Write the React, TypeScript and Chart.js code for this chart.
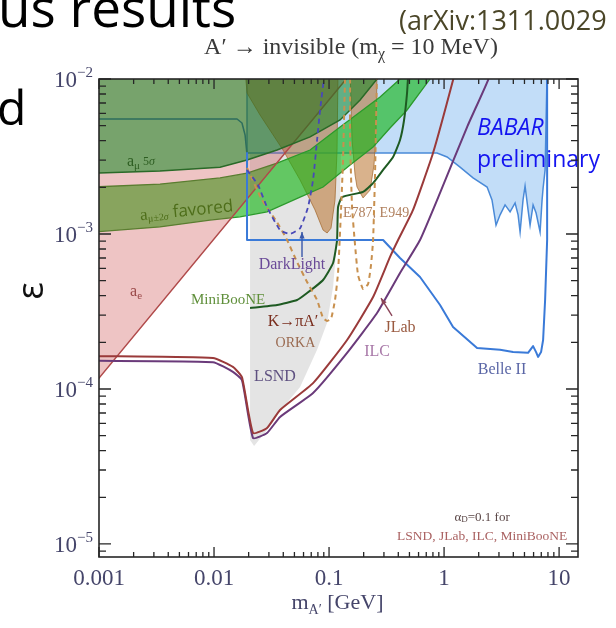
import { useEffect, useRef } from 'react';
import { Chart, registerables } from 'chart.js';

Chart.register(...registerables);

type Pair = [number, number];

// axis ranges: dark photon mass m_A' [GeV] and kinetic mixing ε
const X_RANGE: Pair = [0.001, 14.6];
const Y_RANGE: Pair = [8.24e-6, 0.01];

const xTickValues = [0.001, 0.01, 0.1, 1, 10];
const xTickLabels = ['0.001', '0.01', '0.1', '1', '10'];
const yTickValues = [1e-5, 1e-4, 1e-3, 1e-2];
const yTickExponents = ['−5', '−4', '−3', '−2'];

// ---- exclusion / projection regions ----
const lsndRegion: Pair[] = [
  [0.02056, 3.33e-3], [0.02056, 4.69e-5], [0.0223, 4.29e-5], [0.0289, 5.43e-5], [0.0375, 7.21e-5],
  [0.056, 1.03e-4], [0.0787, 1.79e-4], [0.0962, 2.67e-4], [0.1084, 4.55e-4], [0.1174, 9.14e-4],
  [0.1247, 1.66e-3], [0.1271, 3.33e-3],
];

const babarRegion: Pair[] = [
  [0.01936, 0.0115], [0.01936, 3.33e-3], [0.869, 3.33e-3], [1.062, 3.14e-3], [1.377, 2.70e-3],
  [1.786, 2.30e-3], [2.366, 2.01e-3], [2.61, 1.66e-3], [2.83, 1.14e-3], [3.069, 1.33e-3],
  [3.391, 1.54e-3], [3.75, 1.39e-3], [4.144, 1.585e-3], [4.4, 1.33e-3], [4.581, 1.03e-3],
  [4.86, 1.66e-3], [5.06, 2.04e-3], [5.373, 1.43e-3], [5.594, 1.14e-3], [5.941, 1.54e-3],
  [6.31, 1.365e-3], [6.834, 1.03e-3], [7.114, 1.66e-3], [7.261, 1.98e-3], [7.557, 2.59e-3],
  [7.87, 0.0115],
];

const favoredUpper: Pair[] = [
  [0.0009, 2.01e-3], [0.00339, 2.10e-3], [0.01128, 2.30e-3], [0.01936, 2.47e-3], [0.03532, 2.87e-3],
  [0.06839, 3.48e-3], [0.1247, 4.90e-3], [0.2776, 7.65e-3], [0.4141, 0.01], [0.458, 0.0115],
];
const favoredLower: Pair[] = [
  [0.0009, 1.03e-3], [0.00339, 1.11e-3], [0.00923, 1.23e-3], [0.01683, 1.29e-3], [0.0289, 1.39e-3],
  [0.056, 1.73e-3], [0.0887, 2.01e-3], [0.1524, 2.79e-3], [0.2415, 3.64e-3], [0.339, 4.83e-3],
  [0.4766, 6.31e-3], [0.7551, 0.01], [0.835, 0.0115],
];

const aeBound: Pair[] = [[0.0009, 1.07e-4], [0.16, 0.0112]];
const aeCorner: Pair = [0.0009, 0.0112];

const muon5Sigma: Pair[] = [
  [0.0009, 2.47e-3], [0.00339, 2.55e-3], [0.01128, 2.70e-3], [0.01936, 3.00e-3], [0.03532, 3.48e-3],
  [0.06839, 4.23e-3], [0.1247, 5.44e-3], [0.1862, 7.32e-3], [0.2614, 0.01], [0.307, 0.0115],
];
const muonCorner: Pair = [0.0009, 0.0115];

const kaonRegionA: Pair[] = [
  [0.01862, 0.0115], [0.01936, 8.12e-3], [0.02512, 5.86e-3], [0.03981, 3.48e-3], [0.056, 2.23e-3],
  [0.0755, 1.43e-3], [0.0887, 1.06e-3], [0.0962, 1.015e-3], [0.104, 1.09e-3], [0.1127, 1.66e-3],
  [0.1174, 3.48e-3], [0.1197, 0.0115],
];
const kaonRegionB: Pair[] = [
  [0.1524, 0.0115], [0.1585, 4.04e-3], [0.1683, 2.40e-3], [0.175, 2.01e-3], [0.1976, 1.71e-3],
  [0.2275, 1.92e-3], [0.246, 2.79e-3], [0.2564, 4.69e-3], [0.2614, 0.0115],
];

// ---- curves ----
const tealBound: Pair[] = [
  [0.0009, 5.52e-3], [0.01585, 5.52e-3], [0.0175, 5.20e-3], [0.01862, 4.35e-3], [0.01936, 3.24e-3],
];

const miniBooNE: Pair[] = [
  [0.02056, 3.33e-4], [0.03532, 3.48e-4], [0.05272, 3.75e-4], [0.06442, 4.16e-4], [0.0887, 5.05e-4],
  [0.1084, 6.50e-4], [0.1174, 9.14e-4], [0.1197, 1.49e-3], [0.1297, 1.73e-3], [0.1976, 1.87e-3],
  [0.2415, 2.13e-3], [0.2951, 2.59e-3], [0.3603, 3.14e-3], [0.4141, 4.04e-3], [0.449, 5.44e-3],
  [0.4766, 8.12e-3], [0.49, 0.0115],
];

const belle2: Pair[] = [
  [0.01936, 3.33e-3], [0.01936, 9.14e-4], [0.2951, 9.14e-4], [0.4141, 7.0e-4], [0.618, 5.28e-4],
  [0.9226, 3.48e-4], [1.197, 2.51e-4], [1.936, 1.84e-4], [3.069, 1.79e-4], [3.981, 1.73e-4],
  [5.373, 1.71e-4], [5.941, 1.89e-4], [6.31, 1.73e-4], [6.566, 1.61e-4], [6.97, 1.73e-4],
  [7.261, 2.07e-4], [7.557, 3.75e-4], [7.87, 9.14e-4], [7.87, 0.0115],
];

const orka: Pair[] = [
  [0.01936, 2.67e-3], [0.0261, 1.66e-3], [0.03532, 1.19e-3], [0.04315, 9.14e-4], [0.05272, 6.59e-4],
  [0.06442, 4.90e-4], [0.0787, 3.75e-4], [0.0887, 2.87e-4], [0.0962, 2.75e-4], [0.104, 2.83e-4],
  [0.1127, 3.75e-4], [0.1197, 5.60e-4], [0.1271, 1.43e-3], [0.1323, 3.0e-3], [0.1377, 0.01],
  [0.14, 0.0115],
];

const kaonProjection: Pair[] = [
  [0.1524, 0.0115], [0.1524, 4.04e-3], [0.1585, 1.49e-3], [0.1683, 8.49e-4], [0.1787, 5.43e-4],
  [0.1976, 4.42e-4], [0.2183, 4.75e-4], [0.2317, 6.31e-4], [0.2415, 9.14e-4], [0.2512, 2.47e-3],
  [0.2614, 0.0115],
];

const darkLight: Pair[] = [
  [0.01936, 2.59e-3], [0.02414, 2.07e-3], [0.0289, 1.49e-3], [0.0375, 1.06e-3], [0.04581, 1.0e-3],
  [0.056, 1.09e-3], [0.06565, 1.49e-3], [0.07261, 2.23e-3], [0.0787, 4.04e-3], [0.08356, 6.31e-3],
  [0.0923, 0.0115],
];

const ilc: Pair[] = [
  [0.0009, 1.52e-4], [0.0098, 1.49e-4], [0.0146, 1.29e-4], [0.0175, 1.14e-4], [0.02183, 4.83e-5],
  [0.0289, 5.20e-5], [0.0375, 6.60e-5], [0.0726, 9.42e-5], [0.1435, 1.71e-4], [0.2614, 3.09e-4],
  [0.4141, 5.60e-4], [0.618, 9.14e-4], [0.9226, 1.84e-3], [1.585, 4.90e-3], [2.414, 9.85e-3],
  [2.512, 0.0115],
];

const jlab: Pair[] = [
  [0.0009, 1.63e-4], [0.0098, 1.585e-4], [0.0146, 1.39e-4], [0.0175, 1.19e-4], [0.02183, 5.20e-5],
  [0.0289, 5.60e-5], [0.0375, 7.32e-5], [0.0726, 1.09e-4], [0.1435, 2.07e-4], [0.2415, 3.92e-4],
  [0.339, 7.11e-4], [0.3983, 9.14e-4], [0.5373, 1.43e-3], [0.8017, 3.33e-3], [1.197, 9.85e-3],
  [1.246, 0.0115],
];

// ---- label anchors (m, ε) ----
const aeLabelAt: Pair = [0.0021, 4.23e-4];
const mu5LabelAt: Pair = [0.00175, 2.92e-3];
const favoredLabelAt: Pair = [0.00228, 1.31e-3];
const miniLabelAt: Pair = [0.01324, 3.75e-4];
const kpiLabelAt: Pair = [0.0486, 2.70e-4];
const orkaLabelAt: Pair = [0.051, 1.98e-4];
const lsndLabelAt: Pair = [0.0339, 1.19e-4];
const darkLightLabelAt: Pair = [0.0476, 6.31e-4];
const darkLightArrow: Pair[] = [[0.0582, 7.11e-4], [0.0582, 1.03e-3]];
const e949LabelAt: Pair = [0.2564, 1.365e-3];
const jlabLabelAt: Pair = [0.414, 2.48e-4];
const jlabArrow: Pair[] = [[0.353, 2.96e-4], [0.283, 3.86e-4]];
const ilcLabelAt: Pair = [0.2614, 1.73e-4];
const belleLabelAt: Pair = [3.19, 1.33e-4];
const babarLabelAt: Pair = [1.936, 4.83e-3];
const prelimLabelAt: Pair = [1.936, 3.0e-3];
const alphaLabelAt: Pair = [2.14, 1.49e-5];
const noteLabelAt: Pair = [2.14, 1.11e-5];

const toXY = (a: Pair[]) => a.map(([x, y]) => ({ x, y }));

const SERIF = '"Liberation Serif", "Times New Roman", serif';
const SANS = '"Open Sans", "Liberation Sans", sans-serif';

type Run = [string, string, number?];

function drawRuns(ctx: CanvasRenderingContext2D, parts: Run[], x: number, y: number, align: 'left' | 'center' | 'right', color: string) {
  let w = 0;
  for (const [t, f] of parts) {
    ctx.font = f;
    w += ctx.measureText(t).width;
  }
  let cx = align === 'left' ? x : align === 'center' ? x - w / 2 : x - w;
  ctx.fillStyle = color;
  ctx.textAlign = 'left';
  for (const [t, f, dy] of parts) {
    ctx.font = f;
    ctx.fillText(t, cx, y + (dy || 0));
    cx += ctx.measureText(t).width;
  }
}

function drawArrow(ctx: CanvasRenderingContext2D, x0: number, y0: number, x1: number, y1: number, color: string) {
  const a = Math.atan2(y1 - y0, x1 - x0);
  ctx.strokeStyle = color;
  ctx.fillStyle = color;
  ctx.lineWidth = 1.4;
  ctx.setLineDash([]);
  ctx.beginPath();
  ctx.moveTo(x0, y0);
  ctx.lineTo(x1, y1);
  ctx.stroke();
  ctx.beginPath();
  ctx.moveTo(x1, y1);
  ctx.lineTo(x1 - 7 * Math.cos(a - 0.38), y1 - 7 * Math.sin(a - 0.38));
  ctx.lineTo(x1 - 7 * Math.cos(a + 0.38), y1 - 7 * Math.sin(a + 0.38));
  ctx.closePath();
  ctx.fill();
}

const decorations = {
  id: 'decorations',
  afterDraw(chart: Chart) {
    const ctx = chart.ctx;
    const xs = chart.scales.x;
    const ys = chart.scales.y;
    const { left, right, top, bottom } = chart.chartArea;
    const X = (v: number) => xs.getPixelForValue(v);
    const Y = (v: number) => ys.getPixelForValue(v);
    const P = (p: Pair): Pair => [X(p[0]), Y(p[1])];

    ctx.save();
    ctx.textBaseline = 'middle';

    // in-plot labels
    let [lx, ly] = P(aeLabelAt);
    drawRuns(ctx, [['a', `16px ${SERIF}`], ['e', `11px ${SERIF}`, 4]], lx, ly, 'center', '#9a4848');
    [lx, ly] = P(mu5LabelAt);
    drawRuns(ctx, [['a', `16px ${SERIF}`], ['μ', `11px ${SERIF}`, 4], [' 5', `12px ${SERIF}`], ['σ', `italic 12px ${SERIF}`]], lx, ly, 'left', '#2e5e22');
    [lx, ly] = P(favoredLabelAt);
    ctx.save();
    ctx.translate(lx, ly);
    ctx.rotate(-0.1);
    drawRuns(ctx, [['a', `17px ${SERIF}`], ['μ±2', `10px ${SERIF}`, 4], ['σ', `italic 10px ${SERIF}`, 4], [' favored', `17px ${SANS}`]], 0, 0, 'left', '#4e6e1a');
    ctx.restore();
    [lx, ly] = P(miniLabelAt);
    drawRuns(ctx, [['MiniBooNE', `15px ${SERIF}`]], lx, ly, 'center', '#5f8f3a');
    [lx, ly] = P(kpiLabelAt);
    drawRuns(ctx, [['K→πA′', `16px ${SERIF}`]], lx, ly, 'center', '#7a2e1e');
    [lx, ly] = P(orkaLabelAt);
    drawRuns(ctx, [['ORKA', `14px ${SERIF}`]], lx, ly, 'center', '#9a6a50');
    [lx, ly] = P(lsndLabelAt);
    drawRuns(ctx, [['LSND', `16px ${SERIF}`]], lx, ly, 'center', '#5e5080');
    [lx, ly] = P(darkLightLabelAt);
    drawRuns(ctx, [['DarkLight', `16px ${SERIF}`]], lx, ly, 'center', '#6a4a98');
    const [a0, a1] = darkLightArrow.map(P);
    drawArrow(ctx, a0[0], a0[1], a1[0], a1[1], '#3a58aa');
    [lx, ly] = P(e949LabelAt);
    drawRuns(ctx, [['E787, E949', `14px ${SERIF}`]], lx, ly, 'center', '#b0805e');
    [lx, ly] = P(jlabLabelAt);
    drawRuns(ctx, [['JLab', `16px ${SERIF}`]], lx, ly, 'center', '#9a5a40');
    const [j0, j1] = jlabArrow.map(P);
    drawArrow(ctx, j0[0], j0[1], j1[0], j1[1], '#8a4458');
    [lx, ly] = P(ilcLabelAt);
    drawRuns(ctx, [['ILC', `16px ${SERIF}`]], lx, ly, 'center', '#a878a8');
    [lx, ly] = P(belleLabelAt);
    drawRuns(ctx, [['Belle II', `16px ${SERIF}`]], lx, ly, 'center', '#5a66a6');
    [lx, ly] = P(babarLabelAt);
    drawRuns(ctx, [['BABAR', `italic 23px ${SANS}`]], lx, ly, 'left', '#1414f0');
    [lx, ly] = P(prelimLabelAt);
    drawRuns(ctx, [['preliminary', `23px ${SANS}`]], lx, ly, 'left', '#1414f0');
    [lx, ly] = P(alphaLabelAt);
    drawRuns(ctx, [['α', `13px ${SERIF}`], ['D', `9px ${SERIF}`, 3], ['=0.1 for', `13px ${SERIF}`]], lx, ly, 'center', '#5a4646');
    [lx, ly] = P(noteLabelAt);
    drawRuns(ctx, [['LSND, JLab, ILC, MiniBooNE', `13.5px ${SERIF}`]], lx, ly, 'center', '#aa6262');

    // frame
    ctx.strokeStyle = '#262626';
    ctx.lineWidth = 1.6;
    ctx.setLineDash([]);
    ctx.strokeRect(left, top, right - left, bottom - top);

    // inward ticks on all four sides
    ctx.lineWidth = 1.3;
    ctx.beginPath();
    for (let k = -3; k <= 1; k++) {
      for (let j = 1; j <= 9; j++) {
        const v = j * Math.pow(10, k);
        if (v < X_RANGE[0] * 0.999 || v > X_RANGE[1]) continue;
        const px = X(v);
        const len = j === 1 ? 10 : 5;
        ctx.moveTo(px, bottom);
        ctx.lineTo(px, bottom - len);
        ctx.moveTo(px, top);
        ctx.lineTo(px, top + len);
      }
    }
    for (let k = -6; k <= -2; k++) {
      for (let j = 1; j <= 9; j++) {
        const v = j * Math.pow(10, k);
        if (v < Y_RANGE[0] || v > Y_RANGE[1] * 1.001) continue;
        const py = Y(v);
        const len = j === 1 ? 12 : 7;
        ctx.moveTo(left, py);
        ctx.lineTo(left + len, py);
        ctx.moveTo(right, py);
        ctx.lineTo(right - len, py);
      }
    }
    ctx.stroke();

    // tick labels
    ctx.textBaseline = 'alphabetic';
    xTickValues.forEach((v, i) => {
      drawRuns(ctx, [[xTickLabels[i], `23px ${SERIF}`]], X(v), bottom + 28, 'center', '#45456a');
    });
    yTickValues.forEach((v, i) => {
      const py = Y(v);
      drawRuns(ctx, [['10', `23px ${SERIF}`, 8], [yTickExponents[i], `15px ${SERIF}`, -2]], left - 6, py, 'right', '#45456a');
    });

    // axis titles
    drawRuns(ctx, [['m', `22px ${SERIF}`], ['A′', `14px ${SERIF}`, 5], [' [GeV]', `22px ${SERIF}`]], (left + right) / 2 - 1, bottom + 52, 'center', '#45456a');
    ctx.save();
    ctx.translate(33, 291);
    ctx.rotate(-Math.PI / 2);
    ctx.textBaseline = 'middle';
    drawRuns(ctx, [['ε', `36px ${SANS}`]], 0, 0, 'center', '#111111');
    ctx.restore();

    // plot title
    drawRuns(ctx, [['A′ → invisible (m', `24px ${SERIF}`], ['χ', `16px ${SERIF}`, 5], [' = 10 MeV)', `24px ${SERIF}`]], 351, 54, 'center', '#3a3a3a');

    // surrounding slide text
    drawRuns(ctx, [['us results', `53px ${SANS}`]], -2, 27, 'left', '#000000');
    drawRuns(ctx, [['d', `48px ${SANS}`]], -3, 125, 'left', '#000000');
    drawRuns(ctx, [['(arXiv:1311.0029', `27px ${SANS}`]], 399, 30, 'left', '#4b4628');

    ctx.restore();
  },
};

function area(label: string, pts: Pair[], bg: string, border = 'rgba(0,0,0,0)', bw = 0) {
  return {
    label,
    data: toXY(pts),
    fill: 'shape',
    backgroundColor: bg,
    borderColor: border,
    borderWidth: bw,
    pointRadius: 0,
    tension: 0,
  };
}

function curve(label: string, pts: Pair[], color: string, bw: number, dash: number[] = [], tension = 0.15) {
  return {
    label,
    data: toXY(pts),
    fill: false,
    borderColor: color,
    borderWidth: bw,
    borderDash: dash,
    pointRadius: 0,
    tension,
    borderJoinStyle: 'round',
  };
}

export default function App() {
  const ref = useRef<HTMLCanvasElement>(null);

  useEffect(() => {
    // listed from the bottom layer up
    const layers = [
      area('LSND', lsndRegion, 'rgba(205,205,205,0.55)'),
      area('BaBar', babarRegion, 'rgba(120,180,240,0.45)', '#4a8ad8', 1.5),
      area('E787', kaonRegionA, 'rgba(185,115,45,0.55)', 'rgba(160,100,40,0.7)', 1),
      area('E949', kaonRegionB, 'rgba(185,115,45,0.55)', 'rgba(160,100,40,0.7)', 1),
      area('a_mu favored', [...favoredUpper, ...[...favoredLower].reverse()], 'rgba(20,180,20,0.62)', '#2c9a2c', 1.3),
      area('a_e', [...aeBound, aeCorner], 'rgba(200,60,60,0.3)', '#b04a4a', 1.5),
      area('a_mu 5 sigma', [...muon5Sigma, muonCorner], 'rgba(0,130,20,0.5)', '#2a6a28', 1.5),
      curve('bound', tealBound, '#2e6e5e', 1.5, [], 0),
      curve('MiniBooNE', miniBooNE, '#1e5a22', 2),
      curve('Belle II', belle2, '#3a7ad8', 2, [], 0),
      curve('ORKA', orka, '#c8904e', 2, [5, 4]),
      curve('K projection', kaonProjection, '#c8904e', 2, [5, 4]),
      curve('DarkLight', darkLight, '#4848b8', 1.8, [5, 4]),
      curve('ILC', ilc, '#6a3a7a', 2),
      curve('JLab', jlab, '#9a3a3a', 2),
    ];
    const datasets = layers.map((d, i) => ({ ...d, order: layers.length - i }));

    const chart = new Chart(ref.current as HTMLCanvasElement, {
      type: 'line',
      data: { datasets: datasets as any },
      options: {
        responsive: false,
        animation: false,
        devicePixelRatio: 1,
        events: [],
        layout: { padding: { left: 0, right: 38, top: 79, bottom: 0 } },
        plugins: { legend: { display: false }, tooltip: { enabled: false }, title: { display: false } },
        scales: {
          x: {
            type: 'logarithmic',
            min: X_RANGE[0],
            max: X_RANGE[1],
            bounds: 'data',
            ticks: { display: false },
            grid: { display: false },
            border: { display: false },
            afterFit: (s: any) => { s.height = 71; },
          },
          y: {
            type: 'logarithmic',
            min: Y_RANGE[0],
            max: Y_RANGE[1],
            bounds: 'data',
            ticks: { display: false },
            grid: { display: false },
            border: { display: false },
            afterFit: (s: any) => { s.width = 99; },
          },
        },
      } as any,
      plugins: [decorations as any],
    });
    return () => chart.destroy();
  }, []);

  return (
    <div style={{ position: 'absolute', left: 0, top: 0, width: 616, height: 628, background: '#ffffff' }}>
      <canvas ref={ref} width={616} height={628} style={{ display: 'block', width: 616, height: 628 }} />
    </div>
  );
}
